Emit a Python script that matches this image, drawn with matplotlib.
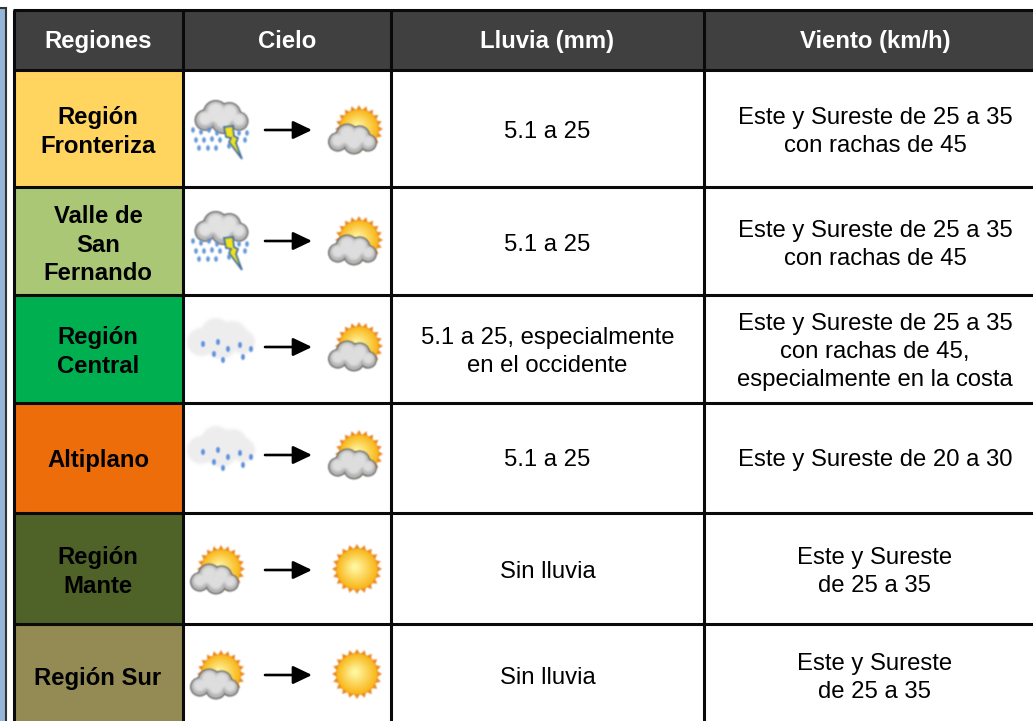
import numpy as np
import matplotlib
matplotlib.use('Agg')
import matplotlib.pyplot as plt
from matplotlib.colors import to_rgb
from matplotlib.patches import Rectangle, Circle, Ellipse, Polygon

plt.rcParams['font.family'] = ['Liberation Sans', 'DejaVu Sans']

# table content
headers = ['Regiones', 'Cielo', 'Lluvia (mm)', 'Viento (km/h)']
regions = ['Región\nFronteriza', 'Valle de\nSan\nFernando', 'Región\nCentral',
           'Altiplano', 'Región\nMante', 'Región Sur']
region_colors = ['#ffd55f', '#aac776', '#00b050', '#ed6d0b', '#4f6228', '#948a54']
sky_from = ['storm', 'storm', 'rain', 'rain', 'partly', 'partly']
sky_to = ['partly', 'partly', 'partly', 'partly', 'sun', 'sun']
rain = ['5.1 a 25', '5.1 a 25', '5.1 a 25, especialmente\nen el occidente',
        '5.1 a 25', 'Sin lluvia', 'Sin lluvia']
wind = ['Este y Sureste de 25 a 35\ncon rachas de 45',
        'Este y Sureste de 25 a 35\ncon rachas de 45',
        'Este y Sureste de 25 a 35\ncon rachas de 45,\nespecialmente en la costa',
        'Este y Sureste de 20 a 30',
        'Este y Sureste\nde 25 a 35',
        'Este y Sureste\nde 25 a 35']

# layout in pixels
col_x = [41 / 3, 183, 391, 704, 1040]
row_y = [10, 70, 187, 295, 403, 513, 624, 730]
icon_y = [130, 241, 347, 455, 570, 675]
text_y = [130, 243, 350, 458, 570, 676]


def make_blur(n):
    # gaussian-ish blur so the icons look like scaled bitmaps
    k = np.array([1.0])
    for _ in range(n * 2):
        k = np.convolve(k, [0.5, 0.5])

    def flt(img, dpi):
        img = np.pad(img, ((n + 1, n + 1), (n + 1, n + 1), (0, 0)))
        pm = img.copy()
        pm[..., :3] *= pm[..., 3:]
        for axis in (0, 1):
            pm = np.apply_along_axis(lambda v: np.convolve(v, k, mode='same'), axis, pm)
        a = np.clip(pm[..., 3:], 1e-4, 1)
        pm[..., :3] = np.clip(pm[..., :3] / a, 0, 1)
        return pm, -(n + 1), -(n + 1)
    return flt


soft = make_blur(1)
softer = make_blur(4)
mid_soft = make_blur(3)


def add(patch, flt=soft):
    patch.set_agg_filter(flt)
    ax.add_patch(patch)


fig = plt.figure(figsize=(10.33, 7.21), dpi=100)
ax = fig.add_axes([0, 0, 1, 1])
ax.set_xlim(0, 1033)
ax.set_ylim(721, 0)
ax.axis('off')


def draw_cloud(cx, cy, s=1.0, dark='#666666', light='#dedede'):
    lobes = [(-15, 3, 9), (-5, -4, 11), (8, -3, 10), (17, 4, 8), (2, 5, 10)]
    for dx, dy, r in lobes:
        add(Circle((cx + dx * s, cy + dy * s), (r + 1.2) * s, color=dark, lw=0))
    for dx, dy, r in lobes:
        add(Circle((cx + dx * s, cy + dy * s), r * s, color='#b4b4b4', lw=0))
    # one blurred highlight over the lobes
    for dx, dy, r in lobes:
        add(Circle((cx + dx * s, cy + (dy - 1.5) * s), r * 0.72 * s, color=light, lw=0), mid_soft)
    add(Ellipse((cx, cy), 28 * s, 11 * s, color=light, lw=0), mid_soft)


def draw_sun(cx, cy, r=25):
    ang = np.linspace(0, 2 * np.pi, 41)[:-1]
    rad = np.where(np.arange(40) % 2 == 0, r, r - 5)
    pts = np.c_[cx + rad * np.cos(ang), cy + rad * np.sin(ang)]
    add(Polygon(pts, closed=True, color='#ec8420', lw=0))
    rim, mid = np.array(to_rgb('#f9b81c')), np.array(to_rgb('#fff6a0'))
    for t in np.linspace(0, 1, 10):
        add(Circle((cx - 2 * t, cy - 2 * t), (r - 4.5) * (1 - 0.85 * t), lw=0,
                   color=rim + (mid - rim) * t))


def draw_partly(cx, y):
    draw_sun(cx + 3, y - 1, 24)
    draw_cloud(cx - 4, y + 9, 0.95)


def draw_storm(cx, y):
    draw_cloud(cx, y - 13, 1.05, dark='#707070', light='#e2e2e2')
    drops = [(-28, 0), (-20, 2), (-12, 0), (-4, 3), (18, 3), (26, 3), (-25, 10), (-17, 10),
             (-9, 9), (-1, 10), (14, 10), (24, 10), (-22, 18), (-13, 18), (-5, 18), (8, 16)]
    for dx, dy in drops:
        add(Ellipse((cx + dx, y + dy), 3.6, 5.5, color='#5f95d8', lw=0))
    bolt = [(3, -3), (12, -4), (13, 6), (17, 8), (15, 13), (21, 29), (8, 12), (10, 8), (5, 7)]
    add(Polygon([(cx + dx, y + dy) for dx, dy in bolt], closed=True, fc='#f3e11e',
                ec='#3d6f9e', lw=1.2))


def draw_rain(cx, y):
    lobes = [(-20, -3, 13), (-5, -12, 14), (12, -10, 13), (22, -3, 11), (0, -2, 15)]
    for dx, dy, r in lobes:
        add(Circle((cx + dx, y + dy - 2), r + 1, color='#eeeeee', lw=0), softer)
    drops = [(-14, -3), (1, -5), (23, -2), (34, 2), (11, 2), (-3, 7), (26, 10), (6, 13)]
    for dx, dy in drops:
        add(Ellipse((cx + dx - 4, y + dy), 3.8, 6, color='#5b8ee0', lw=0))


icons = {'storm': draw_storm, 'rain': draw_rain, 'partly': draw_partly, 'sun': draw_sun}

# left blue strip
ax.add_patch(Rectangle((-3, 8), 9, 720, fc='#95b6d8', ec='#333333', lw=1.5))

# header
ax.add_patch(Rectangle((col_x[0], row_y[0]), col_x[4] - col_x[0], row_y[1] - row_y[0],
                       fc='#404040', ec='none'))
for i, h in enumerate(headers):
    ax.text((col_x[i] + col_x[i + 1]) / 2 if i < 3 else 875, 48, h, color='white',
            fontsize=17.2, fontweight='bold', ha='center', va='baseline')

for i in range(len(regions)):
    ax.add_patch(Rectangle((col_x[0], row_y[i + 1]), col_x[1] - col_x[0],
                           row_y[i + 2] - row_y[i + 1], fc=region_colors[i], ec='none'))
    ax.text(98, text_y[i] + 2, regions[i], fontsize=17.2, fontweight='bold', ha='center',
            va='center', linespacing=1.28, color='black')
    ax.text(547.5, text_y[i] + 2, rain[i], fontsize=17.2, ha='center',
            va='center', linespacing=1.38)
    ax.text(875, text_y[i] + 2, wind[i], fontsize=17.2, ha='center',
            va='center', linespacing=1.36)
    # sky icons and arrow
    if sky_from[i] == 'partly':
        icons[sky_from[i]](218, icon_y[i])
    else:
        icons[sky_from[i]](221, icon_y[i])
    if sky_to[i] == 'sun':
        draw_sun(357, icon_y[i] - 1, 25)
    else:
        draw_partly(356, icon_y[i])
    ax.annotate('', xy=(312, icon_y[i]), xytext=(265, icon_y[i]),
                arrowprops=dict(arrowstyle='-|>,head_length=1.15,head_width=0.55',
                                color='black', lw=1.9, shrinkA=0, shrinkB=0))

# grid lines
for x in col_x[:4]:
    ax.plot([x, x], [row_y[0], 730], color='#0a0a0a', lw=2.2, solid_capstyle='butt')
for y in row_y[:7]:
    ax.plot([col_x[0] - 1, 1040], [y, y], color='#0a0a0a', lw=2.2, solid_capstyle='butt')

fig.savefig('out.png', dpi=100)
